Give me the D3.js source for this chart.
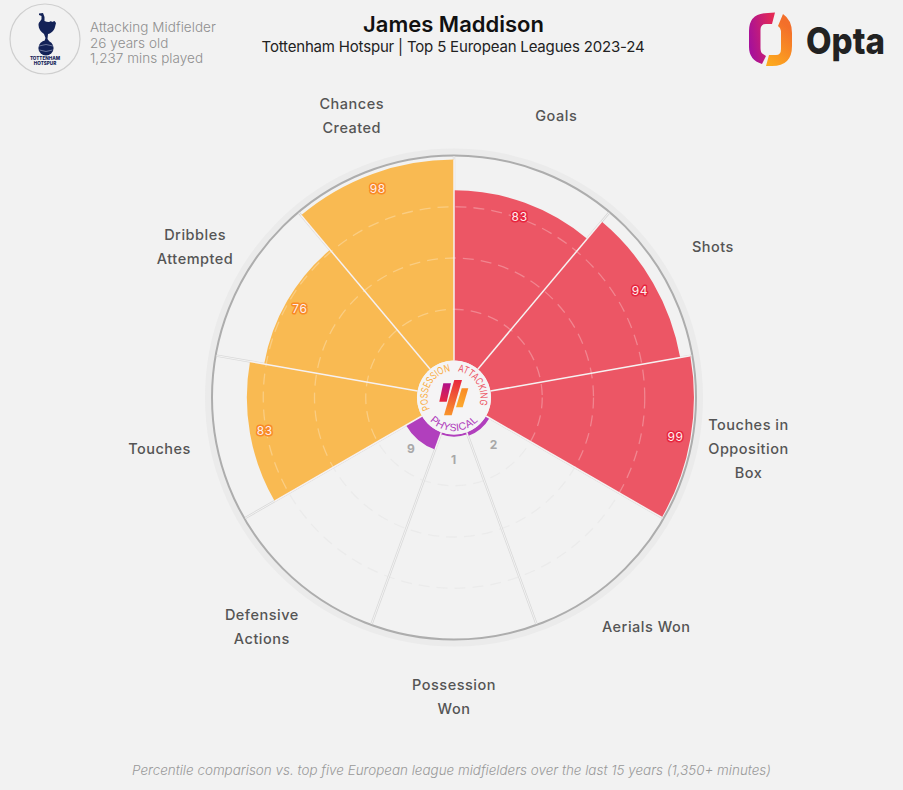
<!DOCTYPE html>
<html><head><meta charset="utf-8">
<script src="https://d3js.org/d3.v7.min.js"></script>
<style>html,body{margin:0;padding:0;background:#f2f2f2;overflow:hidden}svg{display:block}text{font-family:Inter,"Noto Sans",sans-serif}</style>
</head><body><svg id="c" width="903" height="790"></svg>
<script>
const categories=[["Goals"],["Shots"],["Touches in","Opposition","Box"],["Aerials Won"],["Possession","Won"],["Defensive","Actions"],["Touches"],["Dribbles","Attempted"],["Chances","Created"]];
const values=[83,94,99,2,1,9,83,76,98];
const groups=["attacking","attacking","attacking","physical","physical","physical","possession","possession","possession"];
const groupColor={attacking:"#ec5665",physical:"#b13fbd",possession:"#f9ba52"};
const haloColor={attacking:"#e8263f",physical:"#b13fbd",possession:"#f98a25"};
const gridTicks=[25,50,75];
const groupLabels=[["POSSESSION","possession"],["ATTACKING","attacking"],["PHYSICAL","physical"]];
const infoLines=["Attacking Midfielder","26 years old","1,237 mins played"];
const titleText="James Maddison";
const subtitleText="Tottenham Hotspur | Top 5 European Leagues 2023-24";
const footerText="Percentile comparison vs. top five European league midfielders over the last 15 years (1,350+ minutes)";

const cx=454,cy=397.5,inner=37,outer=242;
const svg=d3.select("#c");
const defs=svg.append("defs");
function grad(id,x1,y1,x2,y2,stops){const g=defs.append("linearGradient").attr("id",id).attr("gradientUnits","userSpaceOnUse").attr("x1",x1).attr("y1",y1).attr("x2",x2).attr("y2",y2);stops.forEach((c,i)=>g.append("stop").attr("offset",i/(stops.length-1)).attr("stop-color",c));}
svg.append("rect").attr("width",903).attr("height",790).attr("fill","#f2f2f2");

const r=d3.scaleLinear().domain([0,100]).range([inner,outer]);
const angle=d3.scaleBand().domain(d3.range(categories.length)).range([0,2*Math.PI]).paddingInner(0).paddingOuter(0);
const arc=d3.arc();
const g=svg.append("g").attr("transform",`translate(${cx},${cy})`);

// outer rings
g.append("circle").attr("r",outer+3.5).attr("fill","none").attr("stroke","#ebebeb").attr("stroke-width",7);
g.append("circle").attr("r",outer).attr("fill","#f2f2f2").attr("stroke","#adadad").attr("stroke-width",2);

// grid under the bars
g.append("g").selectAll("circle").data(gridTicks).join("circle").attr("r",d=>r(d)).attr("fill","none").attr("stroke","#ebebeb").attr("stroke-width",1.3).attr("stroke-dasharray","11 7");

// spokes
const spokes=g.append("g");
const edge=i=>angle(i)-Math.PI/2;
function spoke(sel,rr){sel.attr("x1",(d,i)=>inner*Math.cos(edge(i))).attr("y1",(d,i)=>inner*Math.sin(edge(i))).attr("x2",(d,i)=>rr(d,i)*Math.cos(edge(i))).attr("y2",(d,i)=>rr(d,i)*Math.sin(edge(i)));}
spokes.selectAll("line.o").data(values).join("line").attr("class","o").call(spoke,()=>outer-1).attr("stroke","#d9d9d9").attr("stroke-width",2.4);
spokes.selectAll("line.i").data(values).join("line").attr("class","i").call(spoke,()=>outer-1).attr("stroke","#f5f5f5").attr("stroke-width",.9);

// bars
const sector=(d,i)=>arc({innerRadius:inner,outerRadius:r(d),startAngle:angle(i),endAngle:angle(i)+angle.bandwidth()});
g.append("g").selectAll("path").data(values).join("path").attr("d",sector).attr("fill",(d,i)=>groupColor[groups[i]]);

// dashed grid over the bars
const clip=defs.append("clipPath").attr("id","barsClip");
clip.selectAll("path").data(values).join("path").attr("d",sector);
g.append("g").attr("clip-path","url(#barsClip)").selectAll("circle").data(gridTicks).join("circle").attr("r",d=>r(d)).attr("fill","none").attr("stroke","#fff").attr("stroke-opacity",.28).attr("stroke-width",1.3).attr("stroke-dasharray","11 7");

// white separators inside coloured bars
const n=values.length;
g.append("g").selectAll("line").data(values).join("line").call(spoke,(d,i)=>r(Math.max(d,values[(i+n-1)%n]))).attr("stroke","#f6f1f1").attr("stroke-width",1.5);

// value labels
const mid=i=>angle(i)+angle.bandwidth()/2;
const labelR=d=>d>50?r(d)-15:Math.max(62,r(d)+11);
g.append("g").selectAll("text").data(values).join("text")
 .attr("x",(d,i)=>d3.pointRadial(mid(i),labelR(d))[0]).attr("y",(d,i)=>d3.pointRadial(mid(i),labelR(d))[1])
 .attr("text-anchor","middle").attr("dominant-baseline","central")
 .attr("font-size",12).attr("font-weight",d=>d>50?400:700).attr("letter-spacing",.7)
 .attr("fill",d=>d>50?"#fdeeee":"#a8a8a8")
 .attr("stroke",(d,i)=>d>50?haloColor[groups[i]]:"none").attr("stroke-width",3).attr("paint-order","stroke").attr("stroke-linejoin","round")
 .text(d=>d);

// centre disc
g.append("circle").attr("r",inner).attr("fill","#f5f4f5");

// curved group labels: [baseline radius, centre angle in degrees clockwise from 12 o'clock, reversed, fitted length]
const arcs={possession:[26.5,-62,false,50],attacking:[26.5,57,false,45],physical:[33.5,180,true,54]};
const deg=Math.PI/180;
groupLabels.forEach(([t,k])=>{
  const [rad,c,rev,len]=arcs[k];
  const p=d3.path();
  const half=(len/rad)/2;
  const a=(c-90)*deg;
  if(!rev) p.arc(0,0,rad,a-half,a+half,false);
  else p.arc(0,0,rad,a+half,a-half,true);
  defs.append("path").attr("id","arc-"+k).attr("d",p.toString());
  g.append("text").attr("font-size",10).attr("fill",groupColor[k]==="#f9ba52"?"#f9ad3f":groupColor[k])
   .append("textPath").attr("href","#arc-"+k).attr("textLength",len).attr("lengthAdjust","spacingAndGlyphs").text(t);
});

// centre mark
grad("m1",447,383,443,402,["#b0108c","#e8263f"]);
grad("m2",458,380,448,415,["#e8263f","#f9942a"]);
grad("m3",465,388,453,407,["#f98a25","#fdb02f"]);
[["M443.3,383.3L451,383.3L446.7,401.7L439.3,401.7Z","m1"],["M454.3,380L462,380L451.7,415.3L444,415.3Z","m2"],["M461.7,388.3L468.3,388.3L462.7,407.3L456,407.3Z","m3"]]
 .forEach(([d,id])=>svg.append("path").attr("d",d).attr("fill",`url(#${id})`));

// category labels
const labelG=g.append("g");
categories.forEach((lines,i)=>{
  const x=d3.pointRadial(mid(i),299)[0];
  const y=d3.pointRadial(mid(i),300)[1];
  const nudge=y<-270?1:0;
  const t=labelG.append("text").attr("text-anchor","middle").attr("font-size",14.5).attr("font-weight",500).attr("fill","#555").attr("letter-spacing",.5);
  lines.forEach((l,j)=>t.append("tspan").attr("x",x).attr("y",y+4.6+nudge+(j-(lines.length-1)/2)*24).text(l));
});

// header
svg.append("text").attr("x",453.5).attr("y",31.5).attr("text-anchor","middle").attr("font-size",22).attr("font-weight",600).attr("fill","#111").text(titleText);
svg.append("text").attr("x",453).attr("y",52).attr("text-anchor","middle").attr("font-size",15).attr("letter-spacing",-.18).attr("fill","#222").text(subtitleText);
svg.append("g").selectAll("text").data(infoLines).join("text").attr("x",90).attr("y",(d,i)=>32+i*15.5).attr("font-size",13.5).attr("font-weight",300).attr("fill","#8f8f8f").attr("letter-spacing",.05).text(d=>d);
svg.append("text").attr("x",451.5).attr("y",775).attr("text-anchor","middle").attr("font-size",13.45).attr("font-style","italic").attr("font-weight",300).attr("fill","#999").text(footerText);

// crest
svg.append("circle").attr("cx",45).attr("cy",39).attr("r",35).attr("fill","#f2f2f2").attr("stroke","#cfcfcf").attr("stroke-width",1.2);
const navy="#132257";
svg.append("path").attr("fill",navy).attr("d","M39,13.5L43,13L44.5,17L44.5,21C47,22 49.5,22.5 51,21L52,22L54.5,21L56,23L55,27C54,31 51,33.5 48,34L47.5,39L49,41L44.5,41L45.5,38L44,34C41,32 38.5,29 38.5,25C38.5,22 41,21 41.5,19L41.5,16L39,15Z");
svg.append("circle").attr("cx",46).attr("cy",48).attr("r",7.6).attr("fill",navy);
svg.append("path").attr("fill","none").attr("stroke","#c5cbe0").attr("stroke-width",.5).attr("d","M39,46Q46,43 53,46M39.5,50Q46,53 52.5,50");
svg.append("text").attr("x",45).attr("y",59.5).attr("text-anchor","middle").attr("font-size",4.6).attr("font-weight",800).attr("fill",navy).text("TOTTENHAM");
svg.append("text").attr("x",45).attr("y",65).attr("text-anchor","middle").attr("font-size",4.6).attr("font-weight",800).attr("fill",navy).text("HOTSPUR");

// Opta logo
grad("o1",749,40,776,35,["#a6109a","#e42a55"]);
grad("o2",792,30,766,62,["#f36f2a","#fdaa1e"]);
svg.append("path").attr("fill","url(#o1)").attr("d","M775,12.5L772,24L766,24Q760.5,24 760.5,30V48Q760.5,53 763,54L766,56L762,64Q749,60 749,47V31Q749,13 768,13Z");
svg.append("path").attr("fill","url(#o2)").attr("d","M783,14Q792,20 792,33V46Q792,66 772,66L766,66L769,55L776,55Q781,55 781,49V31Q781,28 778,26Z");
svg.append("text").attr("x",806).attr("y",54).attr("font-size",37).attr("font-weight",800).attr("fill","#222").attr("textLength",79).attr("lengthAdjust","spacingAndGlyphs").text("Opta");
</script></body></html>
